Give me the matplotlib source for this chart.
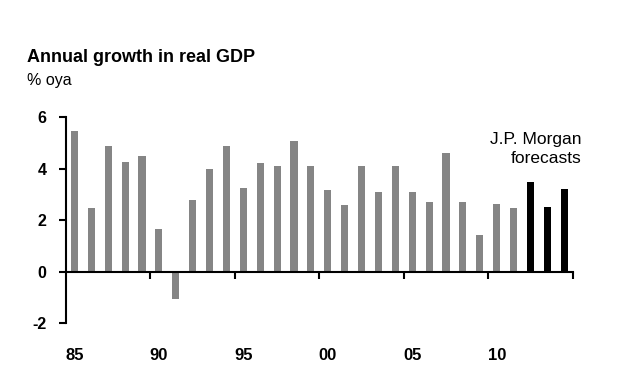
import matplotlib
matplotlib.use("Agg")
import matplotlib.pyplot as plt
import matplotlib.transforms as mtransforms

# Jahreswachstum real GDP, % oya
years = ["85", "86", "87", "88", "89", "90", "91", "92", "93", "94",
         "95", "96", "97", "98", "99", "00", "01", "02", "03", "04",
         "05", "06", "07", "08", "09", "10", "11", "12", "13", "14"]
growth = [5.45, 2.45, 4.87, 4.27, 4.47, 1.66, -1.05, 2.77, 4.0, 4.87,
          3.23, 4.21, 4.08, 5.06, 4.08, 3.17, 2.58, 4.08, 3.1, 4.08,
          3.1, 2.7, 4.61, 2.7, 1.4, 2.64, 2.45, 3.49, 2.51, 3.22]
forecast = [False] * 27 + [True] * 3
label_years = ["85", "90", "95", "00", "05", "10"]
yticks = [-2, 0, 2, 4, 6]

plt.rcParams['font.family'] = ['Liberation Sans', 'DejaVu Sans']

fig = plt.figure(figsize=(6.28, 3.85), dpi=100)
ax = fig.add_axes([0.105, 0.161, 0.807, 0.535])

x = list(range(len(years)))
colors = ["black" if f else "#858585" for f in forecast]
ax.bar(x, growth, width=0.42, color=colors, zorder=2)

ax.set_xlim(-0.5, len(years) - 0.5)
ax.set_ylim(-2, 6)

# Achsen
for s in ["top", "right"]:
    ax.spines[s].set_visible(False)
ax.spines["bottom"].set_position(("data", 0))
ax.spines["bottom"].set_linewidth(1.5)
ax.spines["left"].set_linewidth(1.5)

ax.set_yticks(yticks)
ax.set_yticklabels([str(v) for v in yticks], fontsize=11.5, fontweight="bold")
ax.tick_params(axis="y", length=5, width=1.5, pad=9)

# x-Ticks zwischen den Jahren, alle 5 Jahre
ax.set_xticks([i + 4.5 for i in range(0, len(years), 5)])
ax.set_xticklabels([])
ax.tick_params(axis="x", length=5, width=1.5, direction="out")

trans = mtransforms.blended_transform_factory(ax.transData, ax.transAxes)
for lab in label_years:
    ax.text(years.index(lab), -0.16, lab, transform=trans, ha="center", va="center",
            fontsize=12, fontweight="bold")

ax.text(30.0, 5.4, "J.P. Morgan\nforecasts", ha="right", va="top", fontsize=12.5,
        linespacing=1.3)

fig.text(0.043, 0.838, "Annual growth in real GDP", fontsize=13, fontweight="bold",
         va="baseline")
fig.text(0.043, 0.78, "% oya", fontsize=11.5, va="baseline")

fig.savefig("out.png", dpi=100)
